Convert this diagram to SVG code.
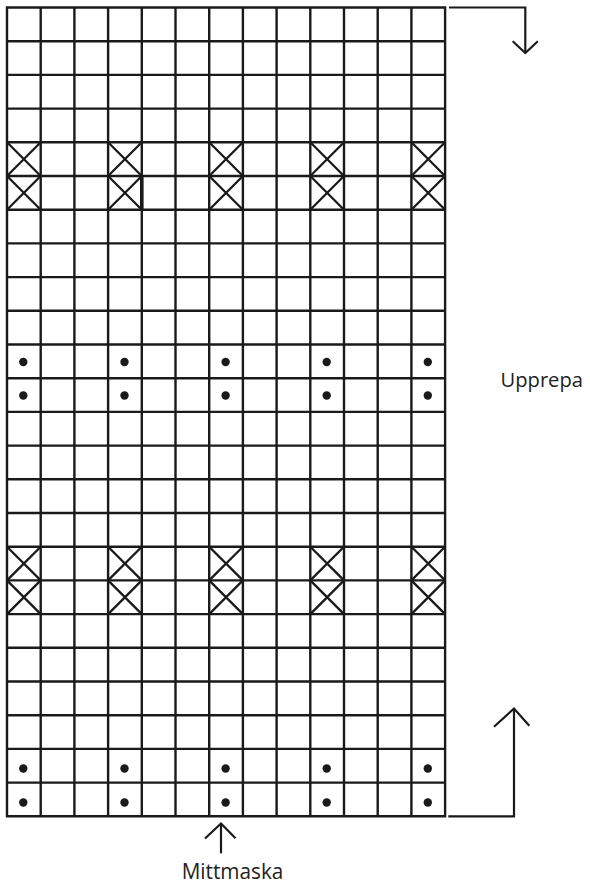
<svg xmlns="http://www.w3.org/2000/svg" xmlns:xlink="http://www.w3.org/1999/xlink" width="590" height="886" viewBox="0 0 590 886">
  <style>
    .grid { fill: none; stroke: #1a1a1a; stroke-width: 2.4; stroke-linecap: square; }
    .mark { fill: none; stroke: #1a1a1a; stroke-width: 2.3; }
    .dot { fill: #1a1a1a; }
    .conn { fill: none; stroke: #1a1a1a; stroke-width: 2.2; stroke-linejoin: miter; }
    .lbl { font-family: "Open Sans", "Noto Sans", "Liberation Sans", sans-serif; font-size: 22.5px; fill: #222; }
  </style>
  <defs>
    <path id="x" class="mark" d="M0,0 L33.7,33.7 M33.7,0 L0,33.7"/>
    <circle id="d" class="dot" r="4.2"/>
  </defs>
  <rect width="590" height="886" fill="#ffffff"/>

  <g id="chart">
    <path class="grid" d="
      M7,7.5 V816.3 M40.7,7.5 V816.3 M74.4,7.5 V816.3 M108.1,7.5 V816.3 M141.8,7.5 V816.3
      M175.5,7.5 V816.3 M209.2,7.5 V816.3 M242.9,7.5 V816.3 M276.6,7.5 V816.3 M310.3,7.5 V816.3
      M344,7.5 V816.3 M377.7,7.5 V816.3 M411.4,7.5 V816.3 M445.1,7.5 V816.3
      M7,7.5 H445.1 M7,41.2 H445.1 M7,74.9 H445.1 M7,108.6 H445.1 M7,142.3 H445.1
      M7,176 H445.1 M7,209.7 H445.1 M7,243.4 H445.1 M7,277.1 H445.1 M7,310.8 H445.1
      M7,344.5 H445.1 M7,378.2 H445.1 M7,411.9 H445.1 M7,445.6 H445.1 M7,479.3 H445.1
      M7,513 H445.1 M7,546.7 H445.1 M7,580.4 H445.1 M7,614.1 H445.1 M7,647.8 H445.1
      M7,681.5 H445.1 M7,715.2 H445.1 M7,748.9 H445.1 M7,782.6 H445.1 M7,816.3 H445.1"/>
    <line x1="141.8" y1="176" x2="141.8" y2="209.7" stroke="#1a1a1a" stroke-width="3.6"/>
  </g>

  <g id="crosses-upper">
    <use xlink:href="#x" x="7" y="142.3"/><use xlink:href="#x" x="7" y="176"/>
    <use xlink:href="#x" x="108.1" y="142.3"/><use xlink:href="#x" x="108.1" y="176"/>
    <use xlink:href="#x" x="209.2" y="142.3"/><use xlink:href="#x" x="209.2" y="176"/>
    <use xlink:href="#x" x="310.3" y="142.3"/><use xlink:href="#x" x="310.3" y="176"/>
    <use xlink:href="#x" x="411.4" y="142.3"/><use xlink:href="#x" x="411.4" y="176"/>
  </g>
  <g id="crosses-lower">
    <use xlink:href="#x" x="7" y="546.7"/><use xlink:href="#x" x="7" y="580.4"/>
    <use xlink:href="#x" x="108.1" y="546.7"/><use xlink:href="#x" x="108.1" y="580.4"/>
    <use xlink:href="#x" x="209.2" y="546.7"/><use xlink:href="#x" x="209.2" y="580.4"/>
    <use xlink:href="#x" x="310.3" y="546.7"/><use xlink:href="#x" x="310.3" y="580.4"/>
    <use xlink:href="#x" x="411.4" y="546.7"/><use xlink:href="#x" x="411.4" y="580.4"/>
  </g>

  <g id="dots-upper">
    <use xlink:href="#d" x="23.3" y="362"/><use xlink:href="#d" x="23.3" y="395.5"/>
    <use xlink:href="#d" x="124.5" y="362"/><use xlink:href="#d" x="124.5" y="395.5"/>
    <use xlink:href="#d" x="225.6" y="362"/><use xlink:href="#d" x="225.6" y="395.5"/>
    <use xlink:href="#d" x="326.7" y="362"/><use xlink:href="#d" x="326.7" y="395.5"/>
    <use xlink:href="#d" x="427.8" y="362"/><use xlink:href="#d" x="427.8" y="395.5"/>
  </g>
  <g id="dots-lower">
    <use xlink:href="#d" x="23.3" y="768.5"/><use xlink:href="#d" x="23.3" y="802.5"/>
    <use xlink:href="#d" x="124.5" y="768.5"/><use xlink:href="#d" x="124.5" y="802.5"/>
    <use xlink:href="#d" x="225.6" y="768.5"/><use xlink:href="#d" x="225.6" y="802.5"/>
    <use xlink:href="#d" x="326.7" y="768.5"/><use xlink:href="#d" x="326.7" y="802.5"/>
    <use xlink:href="#d" x="427.8" y="768.5"/><use xlink:href="#d" x="427.8" y="802.5"/>
  </g>

  <g id="connectors">
    <path class="conn" d="M449,7.5 H525.3 V53"/>
    <path class="conn" d="M512.7,41.3 L525.3,53 L537.8,41.3"/>
    <path class="conn" d="M448.3,816.3 H514 V708.5"/>
    <path class="conn" d="M494,726.7 L514,708.5 L529.3,725.7"/>
    <path class="conn" d="M221,853.3 V823.5"/>
    <path class="conn" d="M205,838.5 L221,823.5 L235.5,838.3"/>
  </g>

  <g id="label-upprepa">
    <text class="lbl" x="500.5" y="387.3" style="font-size:20.5px" textLength="82.5" lengthAdjust="spacingAndGlyphs">Upprepa</text>
  </g>
  <g id="label-mittmaska">
    <text class="lbl" x="181.7" y="879" textLength="101.7" lengthAdjust="spacingAndGlyphs">Mittmaska</text>
  </g>
</svg>
